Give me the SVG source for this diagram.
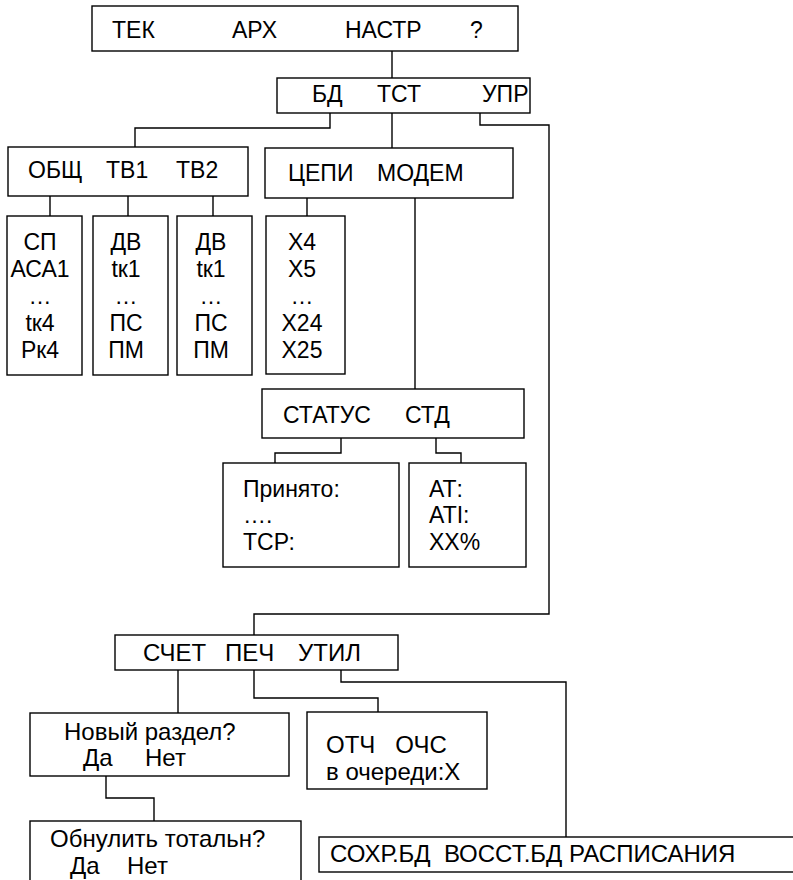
<svg xmlns="http://www.w3.org/2000/svg" width="793" height="880" viewBox="0 0 793 880">
<style>
rect{fill:#fff;stroke:#000;stroke-width:1.4}
.c path{fill:none;stroke:#000;stroke-width:1.4}
text{font-family:"Liberation Sans",Arial,sans-serif;font-size:23px;fill:#000}
.b text{font-size:24px}
.m{text-anchor:middle}
</style>
<rect x="0" y="0" width="793" height="880" style="stroke:none"/>
<g class="c" id="connectors">
<path d="M392 51V78"/>
<path d="M330 113V128H135V147"/>
<path d="M392 113V148"/>
<path d="M480 113V125H549V614H254V635"/>
<path d="M50 196V216M128 196V216M213 196V216"/>
<path d="M307 198V216"/>
<path d="M415 198V389"/>
<path d="M341 438V453H275V463"/>
<path d="M436 438V453H461V463"/>
<path d="M178 670V713"/>
<path d="M254 670V698H378V712"/>
<path d="M341 670V682H566V837"/>
<path d="M106 776V798H154V821"/>
</g>
<g id="main">
<rect x="92" y="6" width="426" height="45"/>
<text x="112" y="38">ТЕК</text><text x="232" y="38">АРХ</text><text x="345" y="38">НАСТР</text><text x="470" y="38">?</text>
</g>
<g id="nastr">
<rect x="277" y="78" width="253" height="35"/>
<text x="312" y="102">БД</text><text x="377" y="102">ТСТ</text><text x="482" y="102">УПР</text>
</g>
<g id="bd">
<rect x="8" y="147" width="240" height="49"/>
<text x="28" y="178">ОБЩ</text><text x="106" y="178">ТВ1</text><text x="176" y="178">ТВ2</text>
</g>
<g id="tst">
<rect x="265" y="148" width="248" height="50"/>
<text x="288" y="181">ЦЕПИ</text><text x="377" y="181">МОДЕМ</text>
</g>
<g id="obsch">
<rect x="7" y="216" width="75" height="159"/>
<text class="m" x="40" y="250">СП</text><text class="m" x="40" y="277">АСА1</text><text class="m" x="40" y="304">…</text><text class="m" x="40" y="331">tк4</text><text class="m" x="40" y="358">Рк4</text>
</g>
<g id="tv1">
<rect x="93" y="216" width="75" height="159"/>
<text class="m" x="126" y="250">ДВ</text><text class="m" x="126" y="277">tк1</text><text class="m" x="126" y="304">…</text><text class="m" x="126" y="331">ПС</text><text class="m" x="126" y="358">ПМ</text>
</g>
<g id="tv2">
<rect x="177" y="216" width="75" height="159"/>
<text class="m" x="211" y="250">ДВ</text><text class="m" x="211" y="277">tк1</text><text class="m" x="211" y="304">…</text><text class="m" x="211" y="331">ПС</text><text class="m" x="211" y="358">ПМ</text>
</g>
<g id="cepi">
<rect x="266" y="216" width="79" height="158"/>
<text class="m" x="302" y="250">X4</text><text class="m" x="302" y="277">X5</text><text class="m" x="302" y="304">…</text><text class="m" x="302" y="331">X24</text><text class="m" x="302" y="358">X25</text>
</g>
<g id="modem">
<rect x="262" y="389" width="262" height="49"/>
<text x="283" y="423">СТАТУС</text><text x="405" y="423">СТД</text>
</g>
<g id="status">
<rect x="223" y="463" width="176" height="104"/>
<text x="243" y="497">Принято:</text><text x="243" y="523">….</text><text x="243" y="550">ТСР:</text>
</g>
<g id="std">
<rect x="409" y="463" width="117" height="104"/>
<text x="429" y="497">АТ:</text><text x="429" y="523">ATI:</text><text x="429" y="550">XX%</text>
</g>
<g id="upr" class="b">
<rect x="115" y="635" width="283" height="35"/>
<text x="143" y="661">СЧЕТ</text><text x="225" y="661">ПЕЧ</text><text x="298" y="661">УТИЛ</text>
</g>
<g id="schet" class="b">
<rect x="30" y="713" width="259" height="63"/>
<text x="64" y="740">Новый раздел?</text><text x="83" y="766">Да</text><text x="145" y="766">Нет</text>
</g>
<g id="obnul" class="b">
<rect x="30" y="821" width="271" height="70"/>
<text x="50" y="847">Обнулить тотальн?</text><text x="70" y="874">Да</text><text x="127" y="874">Нет</text>
</g>
<g id="pech" class="b">
<rect x="307" y="712" width="180" height="77"/>
<text x="326" y="753" xml:space="preserve">ОТЧ   ОЧС</text><text x="326" y="780">в очереди:X</text>
</g>
<g id="util" class="b">
<rect x="319" y="837" width="490" height="35"/>
<text x="330" y="862" xml:space="preserve">СОХР.БД  ВОССТ.БД РАСПИСАНИЯ</text>
</g>
</svg>
